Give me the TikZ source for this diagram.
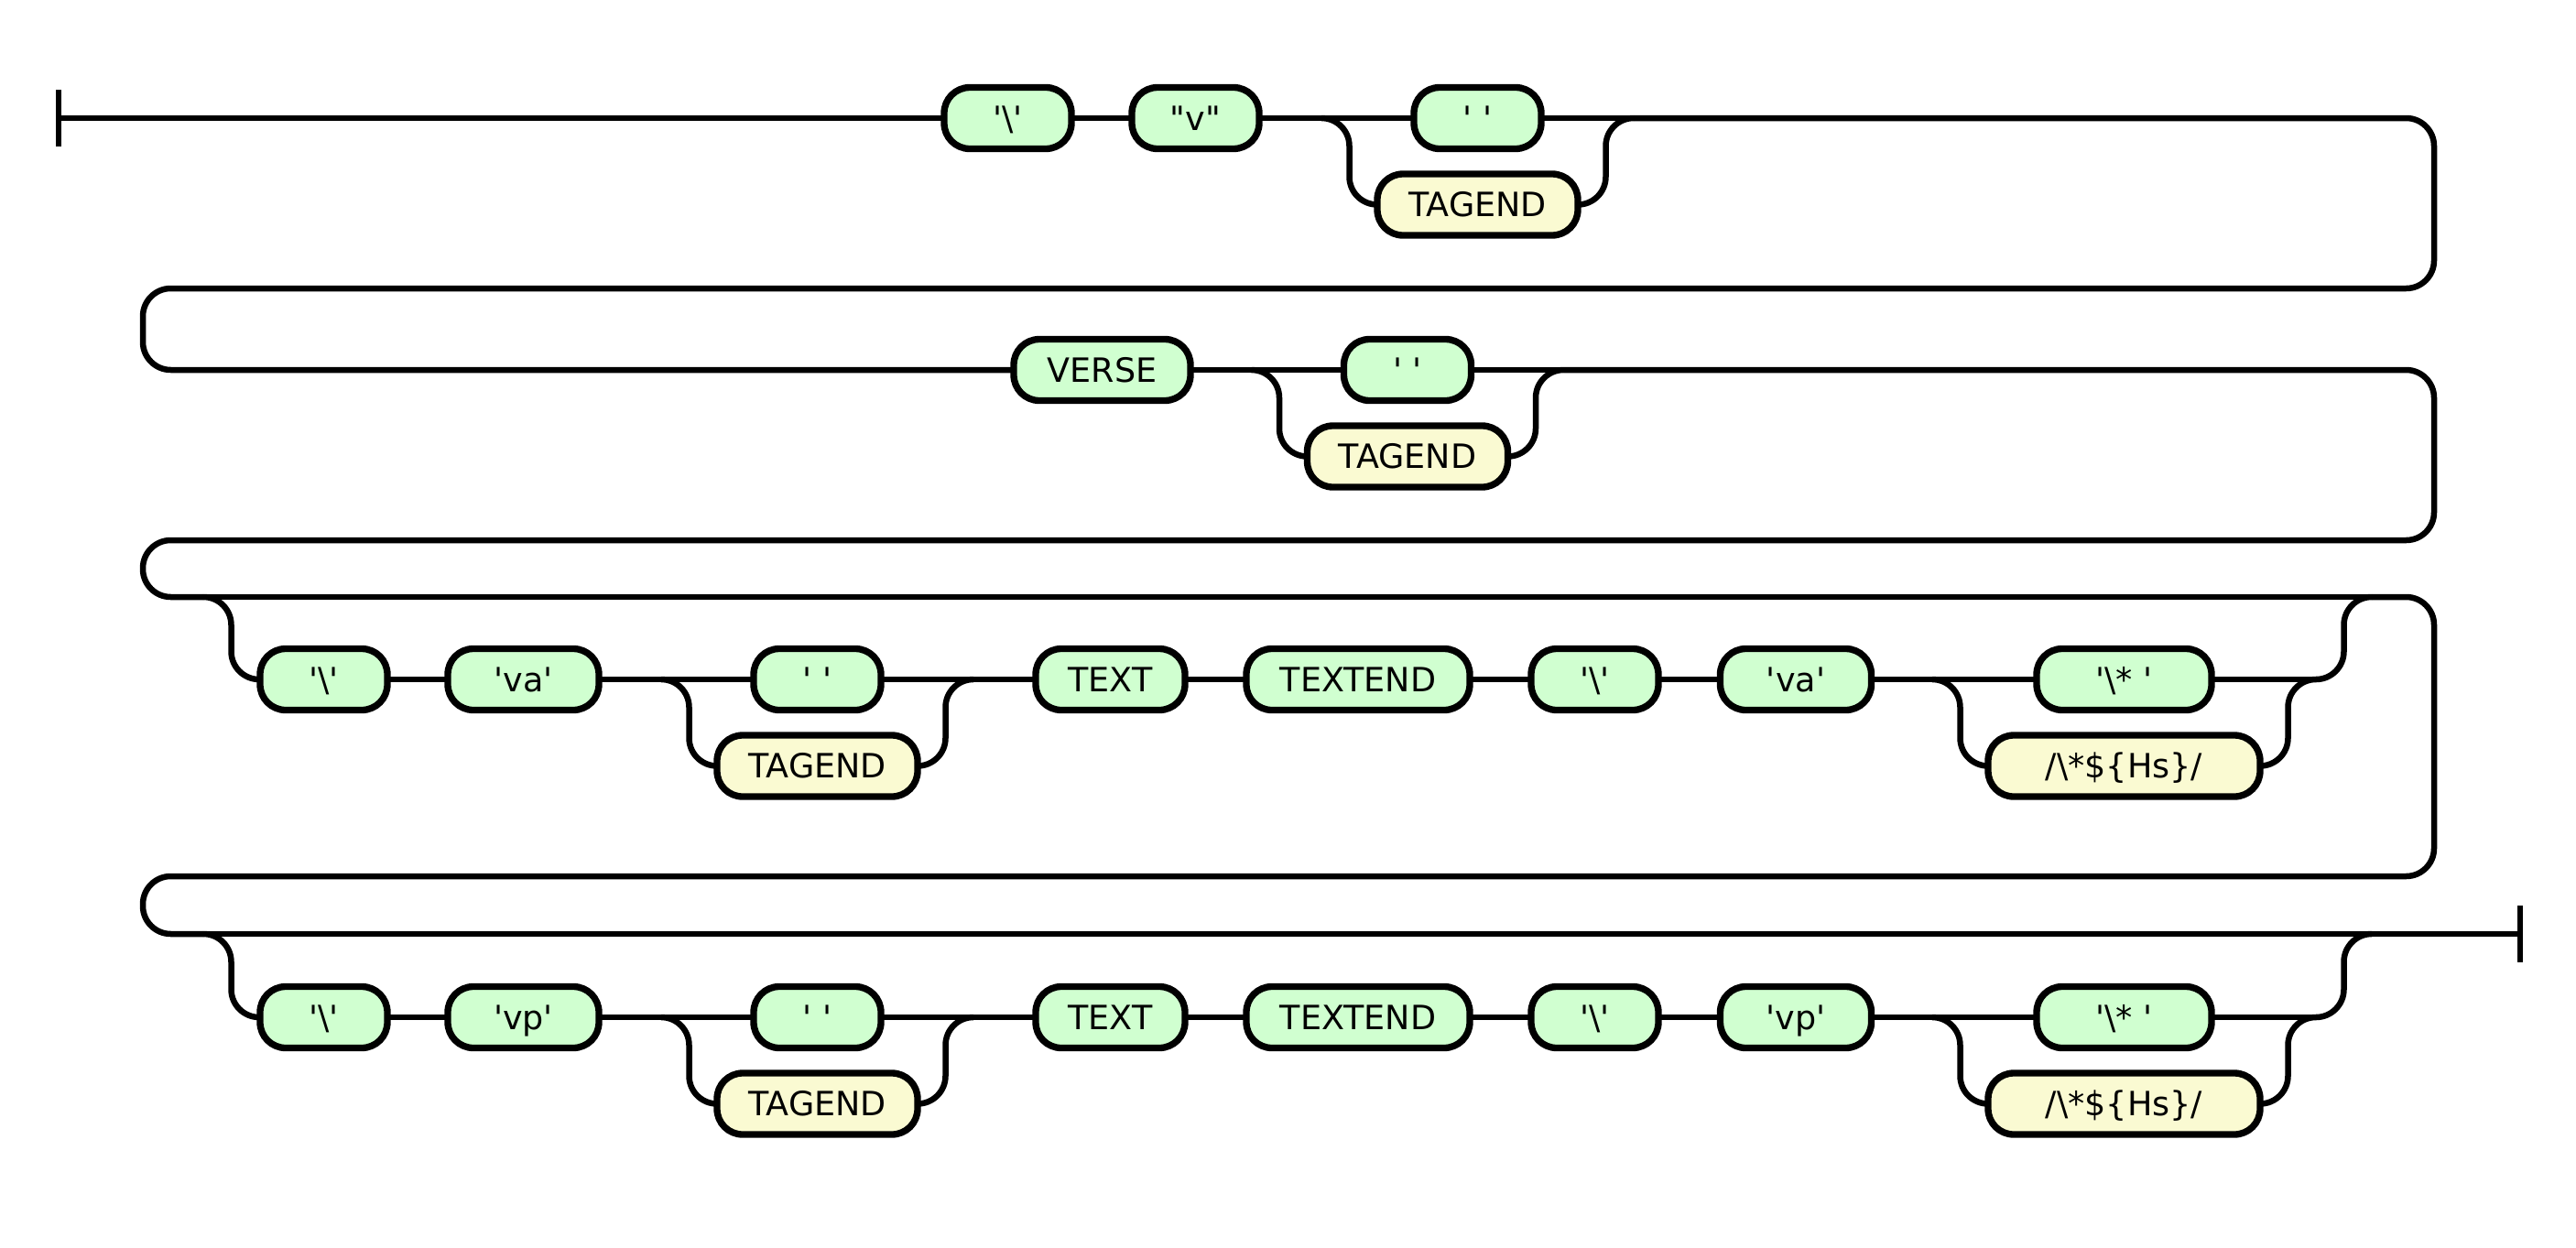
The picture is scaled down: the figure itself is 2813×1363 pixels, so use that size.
\documentclass[tikz,border=0pt]{standalone}
\usepackage{fontspec}
\newfontfamily\rrfont{DejaVu Sans}[Ligatures=TeXOff]
\definecolor{termfill}{RGB}{208,255,208}
\definecolor{ntfill}{RGB}{250,250,210}
\begin{document}
\begin{tikzpicture}[x=0.3bp,y=-0.3bp,
  rail/.style={line width=1.95bp, rounded corners=9.15bp},
  endbar/.style={line width=1.95bp},
  box/.style={draw, line width=2.2bp, rounded corners=8.4bp, minimum height=20.1bp,
    inner sep=0pt, outer sep=0pt, font=\rrfont\fontsize{10.95bp}{13bp}\selectfont,
    text height=7.98bp, text depth=0pt},
  term/.style={box, fill=termfill},
  nonterm/.style={box, fill=ntfill},
  wA/.style={minimum width=41.7bp},
  wB/.style={minimum width=49.5bp},
  wTag/.style={minimum width=65.7bp}
]
\useasboundingbox (0,0) rectangle (2813,1363);

% ---------- row 1 ----------
\coordinate (start) at (64,129);
\node[term,wA] (r1bs) at (1100.5,129) {'\textbackslash'};
\node[term,wA] (r1v) at (1305.5,129) {"v"};
\node[term,wA] (r1sp) at (1613.5,129) {' '};
\node[nonterm,wTag] (r1tag) at (1613.5,223.5) {TAGEND};
\coordinate (r1split) at (1443,129);
\coordinate (r1merge) at (1784,129);

% ---------- row 2 ----------
\node[term,minimum width=57.9bp] (r2verse) at (1203.5,404) {VERSE};
\node[term,wA] (r2sp) at (1537,404) {' '};
\node[nonterm,wTag] (r2tag) at (1537,498.5) {TAGEND};
\coordinate (r2split) at (1366.5,404);
\coordinate (r2merge) at (1707.5,404);

% ---------- row 3 ----------
\coordinate (r3split) at (222,652);
\coordinate (r3join) at (2590,652);
\node[term,wA] (r3a) at (353.5,742) {'\textbackslash'};
\node[term,wB] (r3b) at (571.5,742) {'va'};
\coordinate (r3c1split) at (722,742);
\node[term,wA] (r3sp) at (892.5,742) {' '};
\node[nonterm,wTag] (r3tag) at (892.5,836.5) {TAGEND};
\coordinate (r3c1merge) at (1063,742);
\node[term,minimum width=48.9bp] (r3text) at (1212.5,742) {TEXT};
\node[term,minimum width=73.2bp] (r3textend) at (1483,742) {TEXTEND};
\node[term,wA] (r3d) at (1741.5,742) {'\textbackslash'};
\node[term,wB] (r3e) at (1961,742) {'va'};
\coordinate (r3c2split) at (2110,742);
\node[term,minimum width=57.3bp] (r3star) at (2319.5,742) {'\textbackslash{}* '};
\node[nonterm,minimum width=89.1bp] (r3hs) at (2319.5,836.5) {/\textbackslash{}*\$\{Hs\}/};
\coordinate (r3c2merge) at (2529,742);

% ---------- row 4 ----------
\coordinate (r4split) at (222,1020);
\coordinate (r4join) at (2590,1020);
\coordinate (end) at (2752,1020);
\node[term,wA] (r4a) at (353.5,1111) {'\textbackslash'};
\node[term,wB] (r4b) at (571.5,1111) {'vp'};
\coordinate (r4c1split) at (722,1111);
\node[term,wA] (r4sp) at (892.5,1111) {' '};
\node[nonterm,wTag] (r4tag) at (892.5,1205.5) {TAGEND};
\coordinate (r4c1merge) at (1063,1111);
\node[term,minimum width=48.9bp] (r4text) at (1212.5,1111) {TEXT};
\node[term,minimum width=73.2bp] (r4textend) at (1483,1111) {TEXTEND};
\node[term,wA] (r4d) at (1741.5,1111) {'\textbackslash'};
\node[term,wB] (r4e) at (1961,1111) {'vp'};
\coordinate (r4c2split) at (2110,1111);
\node[term,minimum width=57.3bp] (r4star) at (2319.5,1111) {'\textbackslash{}* '};
\node[nonterm,minimum width=89.1bp] (r4hs) at (2319.5,1205.5) {/\textbackslash{}*\$\{Hs\}/};
\coordinate (r4c2merge) at (2529,1111);

% ---------- rails ----------
\draw[endbar] (start) ++(0,-31) -- ++(0,62);
\draw[endbar] (end) ++(0,-31) -- ++(0,62);

% row 1
\draw[rail] (start) -- (r1bs.west);
\draw[rail] (r1bs.east) -- (r1v.west);
\draw[rail] (r1v.east) -- (r1split) -- (r1sp.west);
\draw[rail] (r1sp.east) -- (r1merge);
\draw[rail] (r1split) -- ++(30.5,0) |- (r1tag.west);
\draw[rail] (r1tag.east) -- ++(30.5,0) |- (r1merge);
\draw[rail] (r1merge) -- (2658,129) -- (2658,315) -- (156,315) -- (156,404) -- (r2verse.west);

% row 2
\draw[rail] (r2verse.east) -- (r2split) -- (r2sp.west);
\draw[rail] (r2sp.east) -- (r2merge);
\draw[rail] (r2split) -- ++(30.5,0) |- (r2tag.west);
\draw[rail] (r2tag.east) -- ++(30.5,0) |- (r2merge);
\draw[rail] (r2merge) -- (2658,404) -- (2658,590) -- (156,590) -- (156,652) -- (r3split);

% row 3
\draw[rail] (r3split) -- (r3join);
\draw[rail] (r3split) -- ++(30.5,0) |- (r3a.west);
\draw[rail] (r3a.east) -- (r3b.west);
\draw[rail] (r3b.east) -- (r3c1split) -- (r3sp.west);
\draw[rail] (r3c1split) -- ++(30.5,0) |- (r3tag.west);
\draw[rail] (r3sp.east) -- (r3c1merge);
\draw[rail] (r3tag.east) -- ++(30.5,0) |- (r3c1merge);
\draw[rail] (r3c1merge) -- (r3text.west);
\draw[rail] (r3text.east) -- (r3textend.west);
\draw[rail] (r3textend.east) -- (r3d.west);
\draw[rail] (r3d.east) -- (r3e.west);
\draw[rail] (r3e.east) -- (r3c2split) -- (r3star.west);
\draw[rail] (r3c2split) -- ++(30.5,0) |- (r3hs.west);
\draw[rail] (r3star.east) -- (r3c2merge);
\draw[rail] (r3hs.east) -- ++(30.5,0) |- (r3c2merge);
\draw[rail] (r3c2merge) -- ++(30.5,0) |- (r3join);
\draw[rail] (r3join) -- (2658,652) -- (2658,957) -- (156,957) -- (156,1020) -- (r4split);

% row 4
\draw[rail] (r4split) -- (r4join) -- (end);
\draw[rail] (r4split) -- ++(30.5,0) |- (r4a.west);
\draw[rail] (r4a.east) -- (r4b.west);
\draw[rail] (r4b.east) -- (r4c1split) -- (r4sp.west);
\draw[rail] (r4c1split) -- ++(30.5,0) |- (r4tag.west);
\draw[rail] (r4sp.east) -- (r4c1merge);
\draw[rail] (r4tag.east) -- ++(30.5,0) |- (r4c1merge);
\draw[rail] (r4c1merge) -- (r4text.west);
\draw[rail] (r4text.east) -- (r4textend.west);
\draw[rail] (r4textend.east) -- (r4d.west);
\draw[rail] (r4d.east) -- (r4e.west);
\draw[rail] (r4e.east) -- (r4c2split) -- (r4star.west);
\draw[rail] (r4c2split) -- ++(30.5,0) |- (r4hs.west);
\draw[rail] (r4star.east) -- (r4c2merge);
\draw[rail] (r4hs.east) -- ++(30.5,0) |- (r4c2merge);
\draw[rail] (r4c2merge) -- ++(30.5,0) |- (r4join);
\end{tikzpicture}
\end{document}
